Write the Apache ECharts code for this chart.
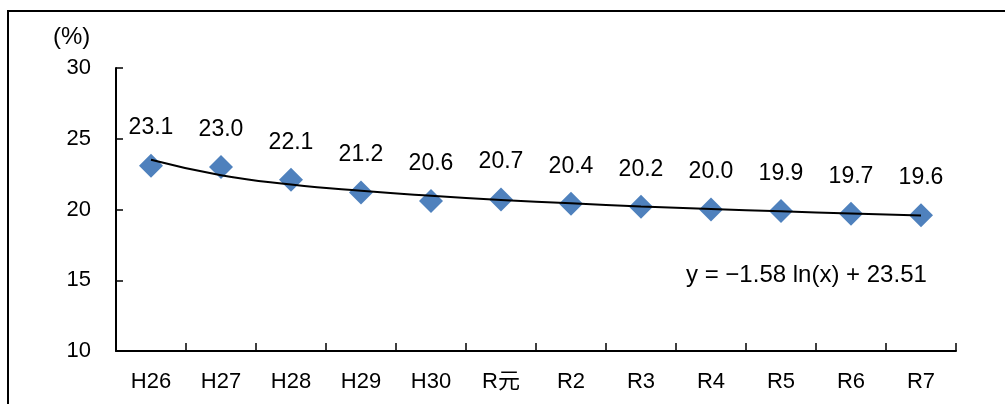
<!DOCTYPE html>
<html>
<head>
<meta charset="utf-8">
<script src="https://cdn.jsdelivr.net/npm/echarts@6/dist/echarts.min.js"></script>
<style>
html,body{margin:0;padding:0;background:#fff;}
#chart{width:1005px;height:404px;}
</style>
</head>
<body>
<div id="chart"></div>
<script>
var categories = ['H26','H27','H28','H29','H30','R元','R2','R3','R4','R5','R6','R7'];
var values = [23.1, 23.0, 22.1, 21.2, 20.6, 20.7, 20.4, 20.2, 20.0, 19.9, 19.7, 19.6];
var trendValues = [23.51, 22.42, 21.77, 21.32, 20.97, 20.68, 20.44, 20.22, 20.04, 19.87, 19.72, 19.58];
var equationText = 'y = \u22121.58 ln(x) + 23.51';
var unitText = '(%)';
var yMin = 10, yMax = 30, yStep = 5;

var FONT = '"Liberation Sans", Arial, "Noto Sans CJK JP", sans-serif';
var chart = echarts.init(document.getElementById('chart'), null, {renderer:'canvas'});
chart.setOption({
  animation: false,
  backgroundColor: '#fff',
  textStyle: {fontFamily: FONT},
  grid: {left: 116, right: 49, top: 68, bottom: 53, containLabel: false},
  xAxis: {
    type: 'category',
    data: categories,
    boundaryGap: true,
    axisLine: {lineStyle: {color: '#000', width: 2}},
    axisTick: {show: true, inside: true, length: 8, lineStyle: {color: '#000', width: 1.5}, alignWithLabel: false},
    axisLabel: {color: '#000', fontSize: 22, fontFamily: FONT, margin: 20}
  },
  yAxis: {
    type: 'value',
    min: yMin, max: yMax, interval: yStep,
    axisLine: {show: true, lineStyle: {color: '#000', width: 2}},
    axisTick: {show: true, inside: true, length: 7, lineStyle: {color: '#000', width: 1.5}},
    splitLine: {show: false},
    axisLabel: {color: '#000', fontSize: 22, fontFamily: FONT, margin: 25}
  },
  graphic: [
    {type: 'rect', shape: {x: 8, y: 11, width: 1200, height: 600}, style: {fill: 'none', stroke: '#000', lineWidth: 2}, z: 100},
    {type: 'text', left: 53, top: 25, style: {text: unitText, fontSize: 24, fontFamily: FONT, fill: '#000'}},
    {type: 'text', left: 686, top: 263, style: {text: equationText, fontSize: 24, fontFamily: FONT, fill: '#000'}}
  ],
  series: [
    {
      type: 'scatter',
      data: values,
      symbol: 'diamond',
      symbolSize: 24,
      itemStyle: {color: '#4F81BD', opacity: 1},
      label: {show: true, position: 'top', distance: 14, color: '#000', opacity: 1, textBorderWidth: 0, fontSize: 23, fontFamily: FONT,
        formatter: function(p){ return p.value.toFixed(1); }},
      z: 2
    },
    {
      type: 'line',
      data: trendValues,
      smooth: true,
      symbol: 'none',
      lineStyle: {color: '#000', width: 2},
      z: 3
    }
  ]
});
</script>
</body>
</html>
